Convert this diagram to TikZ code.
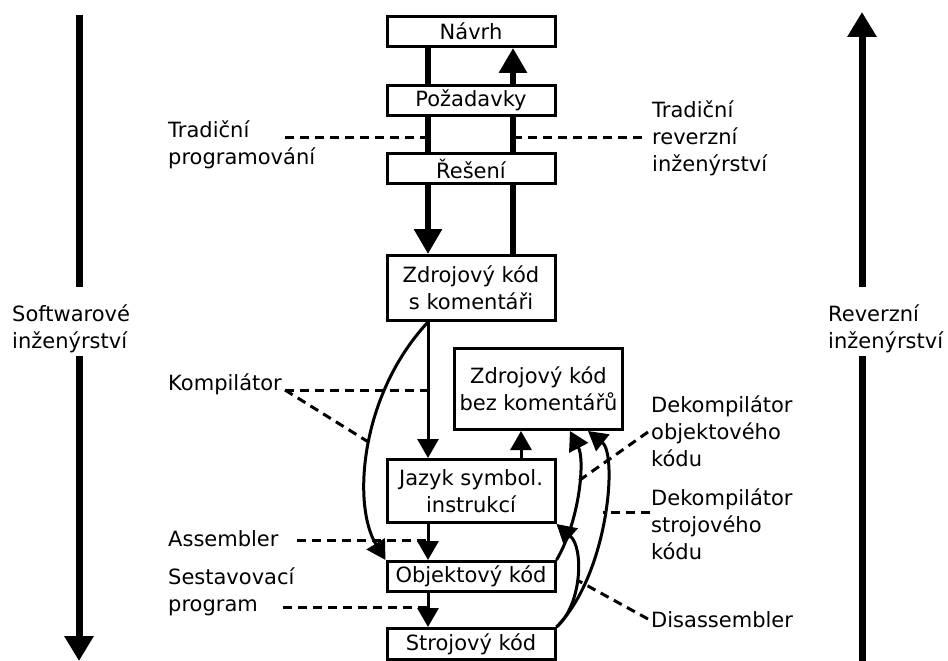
\documentclass[tikz,border=0pt]{standalone}
\usepackage{fontspec}
\setmainfont{DejaVu Sans}
\usetikzlibrary{arrows.meta}

\begin{document}
\begin{tikzpicture}[x=1pt,y=-1pt,
  every node/.style={font=\fontsize{21}{27}\selectfont},
  box/.style={draw, line width=3pt, fill=white, rectangle, inner sep=0pt, minimum width=168pt, align=center},
  thickline/.style={line width=6pt},
  bigtip/.style={-{Triangle[width=27pt,length=25pt]}},
  thinline/.style={line width=3pt},
  smalltip/.style={-{Triangle[width=21pt,length=19pt]}},
  sideline/.style={line width=7pt},
  sidetip/.style={-{Triangle[width=28pt,length=25pt]}},
  dashedline/.style={line width=3pt, dash pattern=on 9pt off 6pt},
  lbl/.style={anchor=base west, align=left, inner sep=0pt}
]
\useasboundingbox (0,0) rectangle (948,661);

\coordinate (L) at (428,0);
\coordinate (R) at (513,0);
\coordinate (J) at (521,0);
\coordinate (Za) at (570,0);
\coordinate (Zb) at (588,0);

% boxes
\node[box, minimum height=30pt] (navrh) at (471,31.5) {Návrh};
\node[box, minimum height=30pt] (pozad) at (471,100.5) {Požadavky};
\node[box, minimum height=30pt] (reseni) at (471,168.5) {Řešení};
\node[box, minimum height=65pt] (zdroj1) at (471,288) {Zdrojový kód\\s komentáři};
\node[box, minimum height=81pt] (zdroj2) at (538.5,389) {Zdrojový kód\\bez komentářů};
\node[box, minimum height=63pt] (jazyk) at (471,491) {Jazyk symbol.\\instrukcí};
\node[box, minimum height=30pt] (objekt) at (471,576.5) {Objektový kód};
\node[box, minimum height=31pt] (stroj) at (471,644) {Strojový kód};

% thick lines
\draw[thickline] (navrh.south -| L) -- (pozad.north -| L);
\draw[thickline] (pozad.south -| L) -- (reseni.north -| L);
\draw[thickline, bigtip] (reseni.south -| L) -- (zdroj1.north -| L);
\draw[thickline] (zdroj1.north -| R) -- (reseni.south -| R);
\draw[thickline] (reseni.north -| R) -- (pozad.south -| R);
\draw[thickline, bigtip] (pozad.north -| R) -- (navrh.south -| R);

% thin arrows
\draw[thinline, smalltip] (zdroj1.south -| L) -- (jazyk.north -| L);
\draw[thinline, smalltip] (jazyk.south -| L) -- (objekt.north -| L);
\draw[thinline, smalltip] (objekt.south -| L) -- (stroj.north -| L);
\draw[thinline, smalltip] (jazyk.north -| J) -- (zdroj2.south -| J);

% curves
\draw[thinline, smalltip] (zdroj1.south -| L) .. controls (360,395) and (352,505) .. (objekt.north west);
\draw[thinline, smalltip] (objekt.north east) .. controls (580,520) and (585,460) .. (zdroj2.south -| Za);
\draw[thinline, smalltip] (stroj.north east) .. controls (608,575) and (618,455) .. (zdroj2.south -| Zb);
\draw[thinline, smalltip] (stroj.north east) .. controls (582,605) and (584,548) .. (jazyk.south east);

% side arrows (base anchor = last line's baseline)
\node[lbl] (sw) at (12,348) {Softwarové\\inženýrství};
\node[lbl] (re) at (828,348) {Reverzní\\inženýrství};
\coordinate (swtop) at (79,15);
\coordinate (swg1) at (79,287);
\coordinate (swg2) at (79,356);
\coordinate (swbot) at (79,661);
\coordinate (retop) at (862,12);
\coordinate (reg1) at (862,287);
\coordinate (reg2) at (862,356);
\coordinate (rebot) at (862,661);
\draw[sideline] (swtop) -- (swg1);
\draw[sideline, sidetip] (swg2) -- (swbot);
\draw[sideline] (rebot) -- (reg2);
\draw[sideline, sidetip] (reg1) -- (retop);

% labels
\node[lbl] (tp) at (168,164) {Tradiční\\programování};
\node[lbl] (tri) at (652,171) {Tradiční\\reverzní\\inženýrství};
\node[lbl] (komp) at (168,390) {Kompilátor};
\node[lbl] (dko) at (651,466) {Dekompilátor\\objektového\\kódu};
\node[lbl] (dks) at (651,559) {Dekompilátor\\strojového\\kódu};
\node[lbl] (asm) at (168,546) {Assembler};
\node[lbl] (sest) at (168,611) {Sestavovací\\program};
\node[lbl] (dis) at (651,627) {Disassembler};

% dashed leaders
\coordinate (d1) at (285,137);
\coordinate (d2) at (645,137);
\coordinate (k0) at (285,390);
\coordinate (k1) at (370,443);
\coordinate (a0) at (297,540);
\coordinate (s0) at (283,607);
\coordinate (o0) at (648,432);
\coordinate (o1) at (577,482);
\coordinate (t0) at (650,512);
\coordinate (t1) at (603,512);
\coordinate (x0) at (648,619);
\coordinate (x1) at (577,580);
\draw[dashedline] (d1) -- (d1 -| L);
\draw[dashedline] (d2 -| R) -- (d2);
\draw[dashedline] (k0) -- (k0 -| L);
\draw[dashedline] (k0) -- (k1);
\draw[dashedline] (a0) -- (a0 -| L);
\draw[dashedline] (s0) -- (s0 -| L);
\draw[dashedline] (o0) -- (o1);
\draw[dashedline] (t0) -- (t1);
\draw[dashedline] (x0) -- (x1);
\end{tikzpicture}
\end{document}
